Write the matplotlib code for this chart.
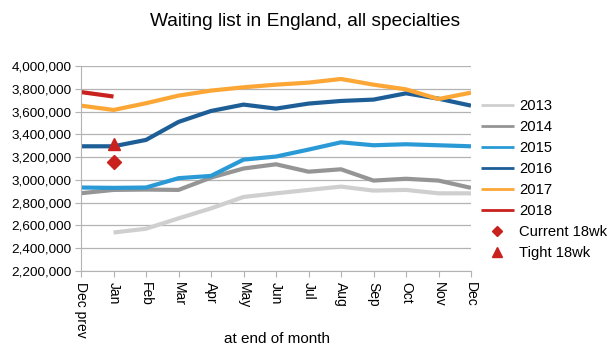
import matplotlib
matplotlib.use('Agg')
from matplotlib import pyplot as plt
from matplotlib.ticker import FuncFormatter

plt.rcParams['font.family'] = ['Liberation Sans', 'DejaVu Sans']

months = ['Dec prev', 'Jan', 'Feb', 'Mar', 'Apr', 'May', 'Jun',
          'Jul', 'Aug', 'Sep', 'Oct', 'Nov', 'Dec']

# waiting list at end of month (Dec prev .. Dec)
y2013 = [None, 2538000, 2571000, 2662000, 2750000, 2850000, 2882000,
         2912000, 2941000, 2906000, 2912000, 2882000, 2882000]
y2014 = [2883000, 2912000, 2915000, 2912000, 3020000, 3100000, 3137000,
         3072000, 3093000, 2994000, 3010000, 2994000, 2930000]
y2015 = [2933000, 2930000, 2933000, 3015000, 3035000, 3178000, 3205000,
         3266000, 3330000, 3304000, 3313000, 3304000, 3295000]
y2016 = [3295000, 3295000, 3351000, 3509000, 3605000, 3661000, 3626000,
         3670000, 3693000, 3705000, 3760000, 3713000, 3652000]
y2017 = [3652000, 3614000, 3673000, 3740000, 3784000, 3813000, 3836000,
         3854000, 3886000, 3836000, 3795000, 3710000, 3766000]
y2018 = [3771000, 3732000]

current_18wk = 3155000   # Jan
tight_18wk = 3315000     # Jan

series = [
    ('2013', y2013, '#cfcfcf'),
    ('2014', y2014, '#959595'),
    ('2015', y2015, '#2a9ad6'),
    ('2016', y2016, '#1d5e96'),
    ('2017', y2017, '#fca635'),
    ('2018', y2018, '#c9211e'),
]

W, H = 613, 350
fig = plt.figure(figsize=(W/100, H/100), dpi=100)
ax = fig.add_axes([81/W, 1-271/H, (471-81)/W, (271-66)/H])

for name, vals, col in series:
    xs = [i for i, v in enumerate(vals) if v is not None]
    ys = [v for v in vals if v is not None]
    ax.plot(xs, ys, color=col, lw=3, label=name, solid_capstyle='butt')

ax.plot([1], [current_18wk], linestyle='none', marker='D', ms=7,
        color='#c9211e', label='Current 18wk')
ax.plot([1], [tight_18wk], linestyle='none', marker='^', ms=9,
        color='#c9211e', label='Tight 18wk')

ax.set_xlim(0, 12)
ax.set_ylim(2200000, 4000000)
ax.set_yticks(range(2200000, 4000001, 200000))
ax.yaxis.set_major_formatter(FuncFormatter(lambda v, p: f'{int(v):,}'))
ax.set_xticks(range(13))
ax.set_xticklabels(months, rotation=270, fontsize=10)
ax.tick_params(axis='y', labelsize=9.7, length=4, color='#b3b3b3', pad=3)
ax.tick_params(axis='x', length=4, color='#b3b3b3', pad=4)

ax.grid(axis='y', color='#b3b3b3', lw=0.9)
ax.set_axisbelow(True)
for s in ['top', 'right']:
    ax.spines[s].set_visible(False)
for s in ['left', 'bottom']:
    ax.spines[s].set_color('#b3b3b3')

fig.text(277/W, 1-339/H, 'at end of month', fontsize=11, ha='center', va='center')
fig.text(305/W, 1-21/H, 'Waiting list in England, all specialties',
         fontsize=13.8, ha='center', va='center')

leg = ax.legend(loc='upper left', bbox_to_anchor=(475/W, 1-93/H),
                bbox_transform=fig.transFigure, frameon=False,
                fontsize=10.6, handlelength=2.25, handletextpad=0.34,
                labelspacing=0.48, markerscale=0.75, borderaxespad=0)
for h in leg.legend_handles:
    if h.get_linestyle() != 'None':
        h.set_linewidth(2)

fig.savefig('out.png', dpi=100)
